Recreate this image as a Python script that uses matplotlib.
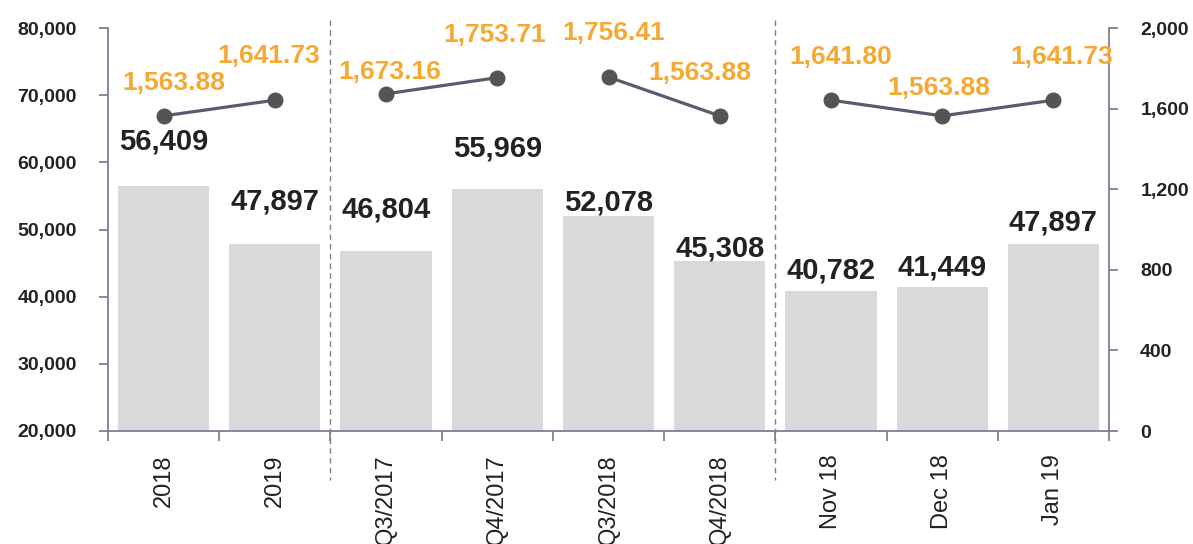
import matplotlib
matplotlib.use('Agg')
import matplotlib.pyplot as plt
import matplotlib.transforms as mtransforms
from matplotlib.lines import Line2D
from matplotlib.ticker import FixedLocator, FuncFormatter

plt.rcParams['font.family'] = ['Liberation Sans', 'DejaVu Sans']

# ---- data ----
categories = ['2018', '2019', 'Q3/2017', 'Q4/2017', 'Q3/2018', 'Q4/2018',
              'Nov 18', 'Dec 18', 'Jan 19']
volumes = [56409, 47897, 46804, 55969, 52078, 45308, 40782, 41449, 47897]
prices = [1563.88, 1641.73, 1673.16, 1753.71, 1756.41, 1563.88, 1641.80, 1563.88, 1641.73]
line_groups = [[0, 1], [2, 3], [4, 5], [6, 7, 8]]
separators = [1.5, 5.5]
left_ticks = [20000, 30000, 40000, 50000, 60000, 70000, 80000]
right_ticks = [0, 400, 800, 1200, 1600, 2000]

# label placement (pixels)
bar_label_dy = [37, 34, 33, 33, 5, 5, 13, 11, 13]
price_label_dx = [10, -6, 4, -2.5, 5, -20, 10, -3, 8]
price_label_dy = [26, 37, 15, 36, 37, 36, 36, 21, 36]

# ---- style ----
BAR_COLOR = '#d9d9d9'
AXIS_COLOR = '#7e7e96'
LINE_COLOR = '#5b5b70'
MARKER_COLOR = '#545454'
ORANGE = '#f5a932'
TEXT_DARK = '#222222'

fig = plt.figure(figsize=(11.93, 5.44), dpi=100)
ax = fig.add_axes([108 / 1193, 113 / 544, (1109 - 108) / 1193, (431 - 28) / 544])
ax2 = ax.twinx()

x = list(range(len(categories)))
ax.bar(x, volumes, width=0.82, color=BAR_COLOR, zorder=1)
ax.set_xlim(-0.5, len(categories) - 0.5)
ax.set_ylim(left_ticks[0], left_ticks[-1])
ax2.set_ylim(right_ticks[0], right_ticks[-1])

for i, v in enumerate(volumes):
    ax.annotate(f'{v:,}', xy=(i, v), xytext=(0, bar_label_dy[i]),
                textcoords='offset pixels', ha='center', va='baseline',
                fontsize=21, fontweight='bold', color=TEXT_DARK)

for g in line_groups:
    ax2.plot([x[i] for i in g], [prices[i] for i in g], color=LINE_COLOR, lw=2.3,
             marker='o', markersize=10.5, markerfacecolor=MARKER_COLOR,
             markeredgecolor=MARKER_COLOR, zorder=3, clip_on=False)

for i, p in enumerate(prices):
    ax2.annotate(f'{p:,.2f}', xy=(i, p), xytext=(price_label_dx[i], price_label_dy[i]),
                 textcoords='offset pixels', ha='center', va='baseline',
                 fontsize=19, fontweight='bold', color=ORANGE, annotation_clip=False)

# separators
trans = mtransforms.blended_transform_factory(ax.transData, ax.transAxes)
for s in separators:
    ln = Line2D([s, s], [(431 - 20) / 403, (431 - 480) / 403], transform=trans,
                color=AXIS_COLOR, lw=1, linestyle=(0, (4, 3)), clip_on=False)
    ax.add_line(ln)

# axes styling
for a in (ax, ax2):
    a.spines['top'].set_visible(False)
    for sp in ('left', 'right', 'bottom'):
        a.spines[sp].set_color(AXIS_COLOR)
        a.spines[sp].set_linewidth(1.3)

ax.spines['right'].set_visible(False)
ax2.spines['left'].set_visible(False)
ax2.spines['bottom'].set_visible(False)

ax.yaxis.set_major_locator(FixedLocator(left_ticks))
ax.yaxis.set_major_formatter(FuncFormatter(lambda v, p: f'{int(v):,}'))
ax.tick_params(axis='y', direction='out', length=6.5, width=1.3, color=AXIS_COLOR,
               pad=16, labelsize=14, labelcolor=TEXT_DARK)
for t in ax.get_yticklabels():
    t.set_fontweight('bold')

ax2.yaxis.set_major_locator(FixedLocator(right_ticks))
ax2.yaxis.set_major_formatter(FuncFormatter(lambda v, p: f'{int(v):,}'))
ax2.tick_params(axis='y', direction='out', length=6.5, width=1.3, color=AXIS_COLOR,
                pad=16, labelsize=14, labelcolor=TEXT_DARK)
for t in ax2.get_yticklabels():
    t.set_fontweight('bold')

ax.set_xticks(x)
ax.set_xticklabels(categories, rotation=90, fontsize=17, color=TEXT_DARK)
ax.set_xticks([i - 0.5 for i in range(len(categories) + 1)], minor=True)
ax.tick_params(axis='x', which='major', length=0, pad=17)
ax.tick_params(axis='x', which='minor', direction='out', length=7.5, width=1.3,
               color=AXIS_COLOR)

fig.savefig('out.png', dpi=100)
